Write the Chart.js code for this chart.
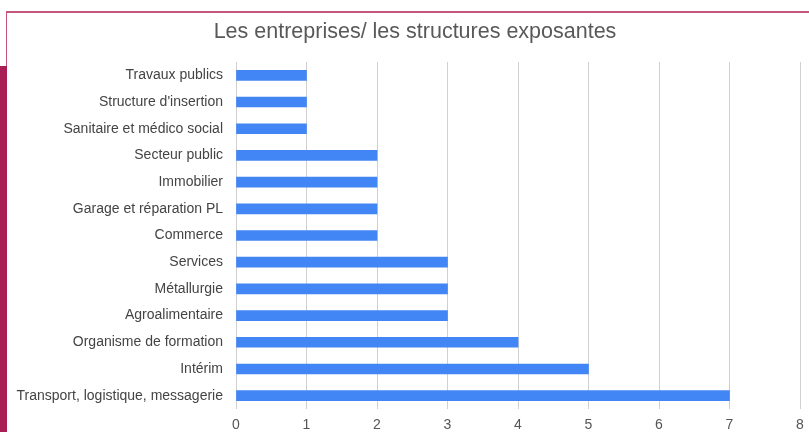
<!DOCTYPE html>
<html>
<head>
<meta charset="utf-8">
<script src="https://cdn.jsdelivr.net/npm/chart.js@4"></script>
<style>
  body { margin: 0; background: #fff; }
  #wrap { position: relative; width: 809px; height: 432px; overflow: hidden; }
  #frame { position: absolute; left: 6px; top: 11px; width: 820px; height: 500px; border-top: 2px solid #c4577a; border-left: 1px solid #c4577a; }
  #band { position: absolute; left: 0; top: 66px; width: 7px; height: 400px; background: #a91f55; }
  canvas { position: absolute; left: 0; top: 0; }
</style>
</head>
<body>
<div id="wrap">
  <div id="frame"></div>
  <div id="band"></div>
  <canvas id="chart" width="809" height="432"></canvas>
</div>
<script>
const categories = [
  "Travaux publics",
  "Structure d'insertion",
  "Sanitaire et médico social",
  "Secteur public",
  "Immobilier",
  "Garage et réparation PL",
  "Commerce",
  "Services",
  "Métallurgie",
  "Agroalimentaire",
  "Organisme de formation",
  "Intérim",
  "Transport, logistique, messagerie"
];
const counts = [1, 1, 1, 2, 2, 2, 2, 3, 3, 3, 4, 5, 7];
const titleText = "Les entreprises/ les structures exposantes";

// title drawn by hand, it sits a bit right of the canvas centre in the original
const titlePlugin = {
  id: 'offsetTitle',
  afterDraw(chart) {
    const c = chart.ctx;
    c.save();
    c.font = '21.5px "Liberation Sans"';
    c.fillStyle = '#595959';
    c.textAlign = 'center';
    c.textBaseline = 'middle';
    c.fillText(titleText, 415, 32);
    c.restore();
  }
};

const ctx = document.getElementById('chart').getContext('2d');
const chart = new Chart(ctx, {
  type: 'bar',
  data: {
    labels: categories,
    datasets: [{
      data: counts,
      backgroundColor: '#4285f4',
      barThickness: 10
    }]
  },
  options: {
    indexAxis: 'y',
    responsive: false,
    animation: false,
    layout: { padding: { left: 0, right: 9, top: 62, bottom: 0 } },
    plugins: {
      legend: { display: false },
      tooltip: { enabled: false },
      title: { display: false }
    },
    scales: {
      x: {
        min: 0,
        max: 8,
        ticks: { stepSize: 1, color: '#555', padding: 8, font: { family: 'Liberation Sans', size: 14 } },
        grid: { color: '#d0d0d0', drawTicks: false },
        border: { display: false },
        afterFit: function (scale) {
          scale.height = 23;
          scale.paddingRight = 0; // let layout padding decide where 8 sits
        }
      },
      y: {
        ticks: { color: '#444', padding: 13, font: { family: 'Liberation Sans', size: 14 } },
        grid: { display: false, drawTicks: false },
        border: { display: false },
        afterFit: function (scale) { scale.width = 236; }
      }
    }
  },
  plugins: [titlePlugin]
});
</script>
</body>
</html>
